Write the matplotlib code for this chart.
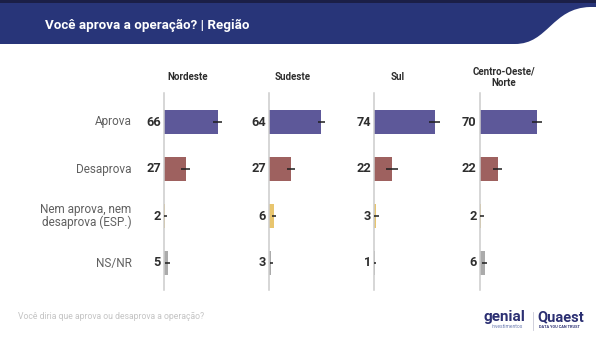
import matplotlib
matplotlib.use("Agg")
import matplotlib.pyplot as plt
from matplotlib.path import Path
from matplotlib.patches import PathPatch, Rectangle

plt.rcParams['font.family'] = ['Roboto', 'DejaVu Sans']

W, H = 596, 340

title = "Você aprova a operação? | Região"
question = "Você diria que aprova ou desaprova a operação?"

categories = ["Aprova", "Desaprova", "Nem aprova, nem\ndesaprova (ESP.)", "NS/NR"]
regions = ["Nordeste", "Sudeste", "Sul", "Centro-Oeste/\nNorte"]

nordeste = [66, 27, 2, 5]
sudeste = [64, 27, 6, 3]
sul = [74, 22, 3, 1]
centro_norte = [70, 22, 2, 6]

nordeste_err = [5.7, 5.5, 2.5, 3.0]
sudeste_err = [4.5, 4.5, 2.5, 2.0]
sul_err = [6.7, 7.0, 3.0, 2.0]
centro_norte_err = [6.3, 5.7, 3.0, 3.5]

values = [nordeste, sudeste, sul, centro_norte]
errors = [nordeste_err, sudeste_err, sul_err, centro_norte_err]

bar_colors = ["#5d5899", "#9e615f", "#e8c56e", "#ababab"]

fig = plt.figure(figsize=(W / 100, H / 100), dpi=100)
fig.patch.set_facecolor("white")


def px(x, y):
    """Pixel coordinates (origin top-left) to figure fraction."""
    return x / W, 1 - y / H


# Header band with curved right edge
bg = fig.add_axes([0, 0, 1, 1])
bg.set_xlim(0, W)
bg.set_ylim(H, 0)
bg.axis("off")
verts = [(0, 0), (0, 44), (515, 44),
         (548, 44), (552, 8), (590, 7),
         (596, 7), (596, 0), (0, 0)]
codes = [Path.MOVETO, Path.LINETO, Path.LINETO,
         Path.CURVE4, Path.CURVE4, Path.CURVE4,
         Path.LINETO, Path.LINETO, Path.CLOSEPOLY]
bg.add_patch(PathPatch(Path(verts, codes), facecolor="#283579", edgecolor="none"))
bg.add_patch(Rectangle((0, 0), W, 2.5, facecolor="#1b1f47", edgecolor="none"))
bg.text(45, 25, title, color="white", fontsize=9.6, fontweight="bold",
        va="center", ha="left")

# Footer
bg.text(18, 316, question, color="#c4c4c4", fontsize=6.2, va="center", ha="left")
bg.text(483, 317, "genial", color="#2b2f72", fontsize=11, fontweight="bold",
        va="center", ha="left")
bg.text(507, 327, "investimentos", color="#6b7bb0", fontsize=3.6, va="center", ha="center")
bg.plot([533, 533], [312, 330], color="#c9c9d6", lw=0.6)
bg.text(537, 317, "Quaest", color="#2b2f72", fontsize=10.5, fontweight="bold",
        va="center", ha="left")
bg.text(559, 327, "DATA YOU CAN TRUST", color="#2b2f72", fontsize=2.8,
        fontweight="bold", va="center", ha="center")

# Panels
axis_x = [163.7, 269.0, 374.0, 479.7]
top_px, bot_px = 93, 290
row_px = [122, 169, 216, 263]
row_step = 47
scale = 0.818  # pixels per percentage point
panel_w = 100

y_top = -(row_px[0] - top_px) / row_step
y_bot = 3 + (bot_px - row_px[3]) / row_step

rows = list(range(len(categories)))

for i, (region, vals, errs) in enumerate(zip(regions, values, errors)):
    x0, y0 = px(axis_x[i], bot_px)
    ax = fig.add_axes([x0, y0, panel_w / W, (bot_px - top_px) / H])
    ax.set_xlim(0, panel_w / scale)
    ax.set_ylim(y_bot, y_top)
    ax.barh(rows, vals, height=0.51, color=bar_colors, zorder=2)
    ax.errorbar(vals, rows, xerr=errs, fmt="none", ecolor="#1e1e1e",
                elinewidth=1.1, capsize=0, zorder=3)
    for r, v in zip(rows, vals):
        ax.text(-0.03, r, str(v), transform=ax.get_yaxis_transform(),
                ha="right", va="center", fontsize=9.2, fontweight="bold",
                color="#2e2e2e", clip_on=False)
    for s in ["top", "right", "bottom"]:
        ax.spines[s].set_visible(False)
    ax.spines["left"].set_color("#cccccc")
    ax.spines["left"].set_linewidth(1.1)
    ax.set_xticks([])
    ax.set_yticks([])
    ax.patch.set_alpha(0)
    # Column title
    bg.text(axis_x[i] + 24, 77.5, region, ha="center", va="center", fontsize=7,
            fontweight="bold", color="#2e2e2e", linespacing=1.15)

# Row labels
for r, cat in zip(rows, categories):
    bg.text(131.5, row_px[r], cat, ha="right", va="center", fontsize=8.5,
            color="#606060", linespacing=1.05)

fig.savefig("out.png", dpi=100)
